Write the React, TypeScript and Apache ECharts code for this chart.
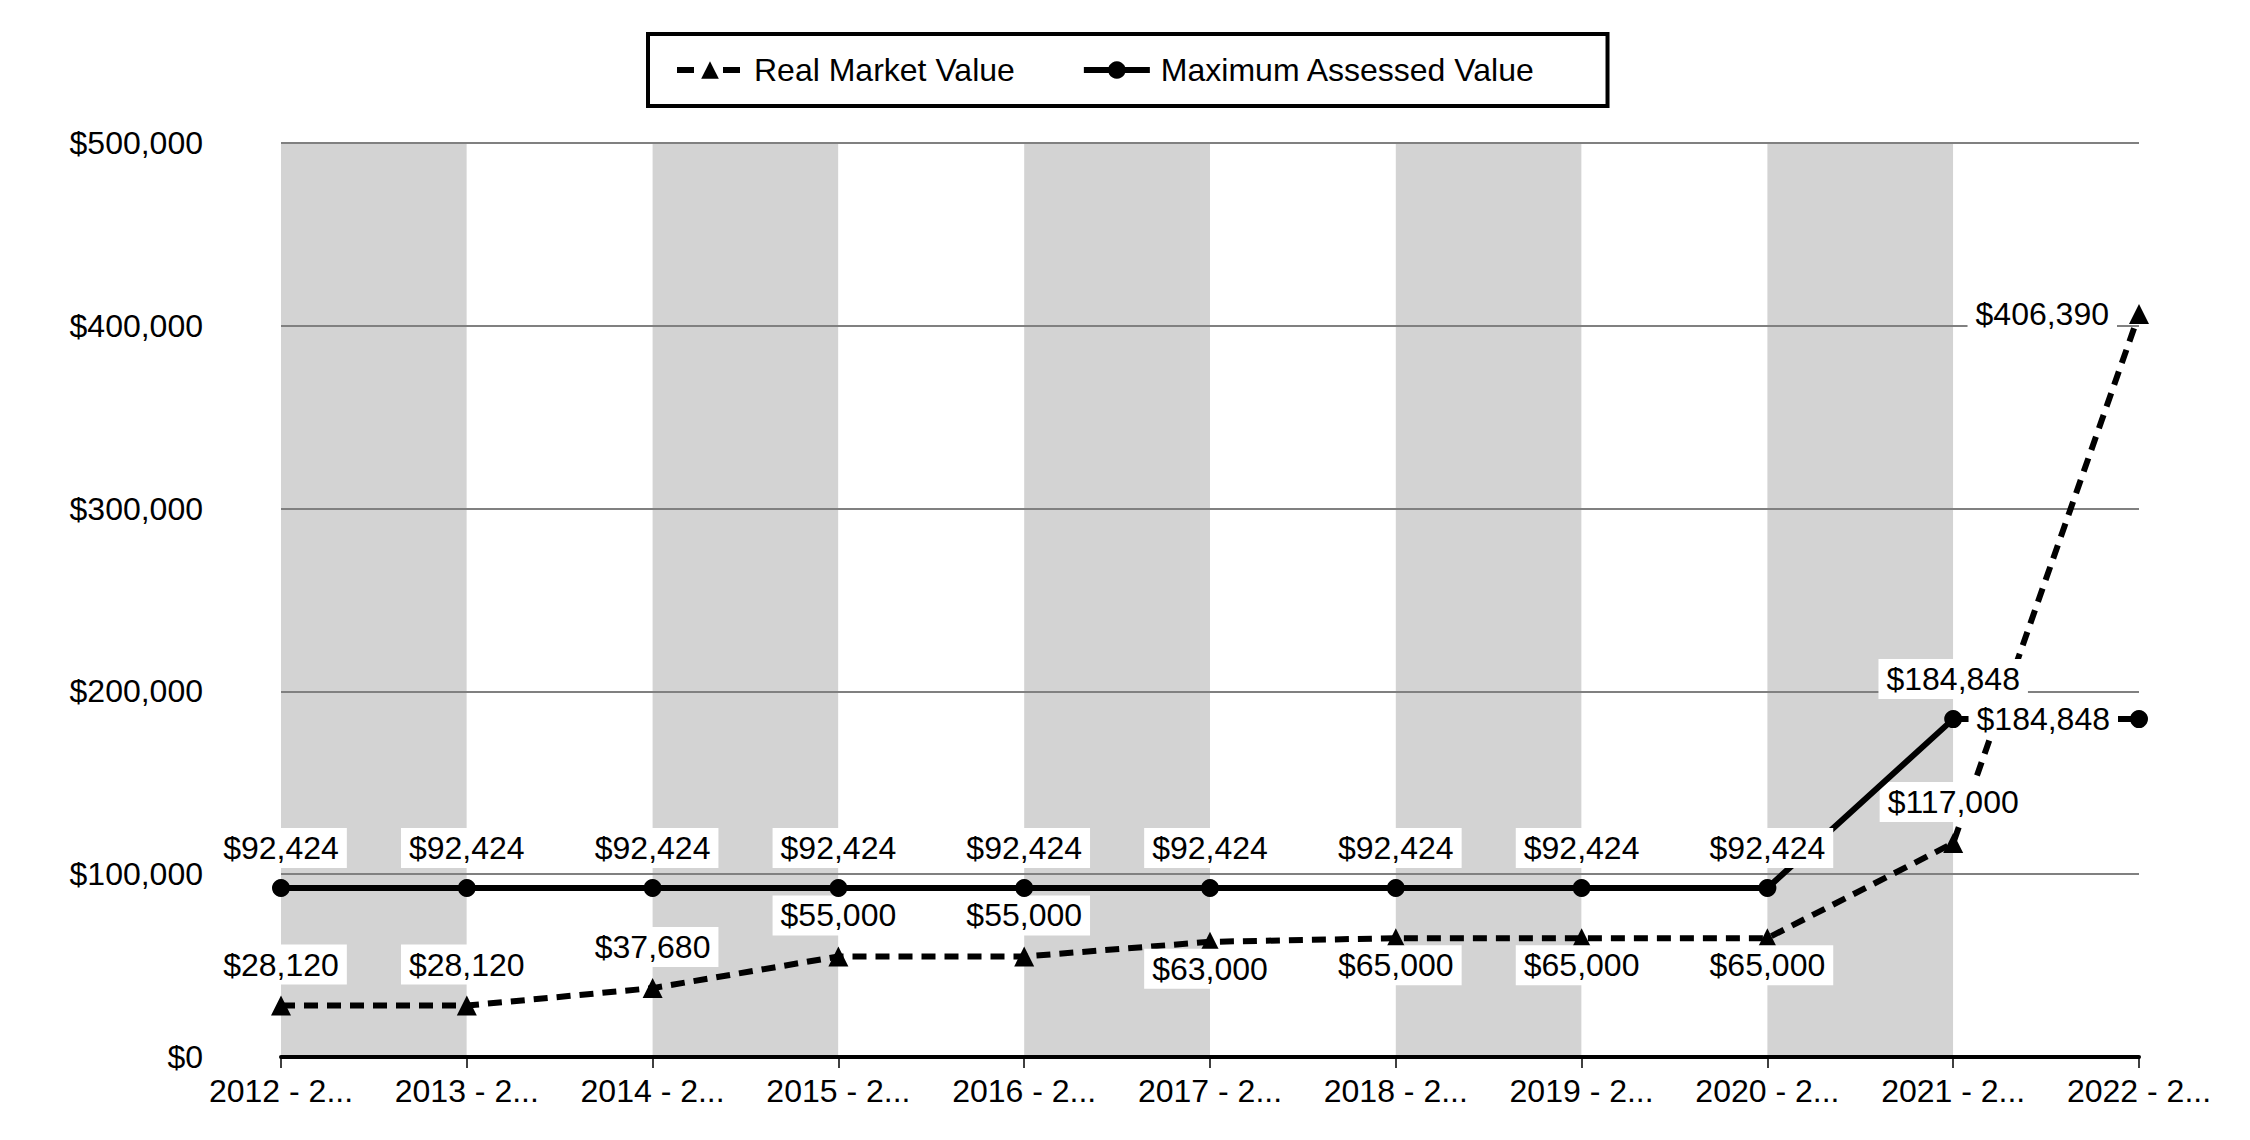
import React, { useEffect, useRef } from "react";
import * as echarts from "echarts";

const categories = [
  "2012 - 2013", "2013 - 2014", "2014 - 2015", "2015 - 2016", "2016 - 2017", "2017 - 2018",
  "2018 - 2019", "2019 - 2020", "2020 - 2021", "2021 - 2022", "2022 - 2023",
];
const realMarketValue = [28120, 28120, 37680, 55000, 55000, 63000, 65000, 65000, 65000, 117000, 406390];
const maxAssessedValue = [92424, 92424, 92424, 92424, 92424, 92424, 92424, 92424, 92424, 184848, 184848];
const yMin = 0;
const yMax = 500000;
const yInterval = 100000;

const rmvLabelPlacement = ["top", "top", "top", "top", "top", "bottom", "bottom", "bottom", "bottom", "top", "left"];
const mavLabelPlacement = ["top", "top", "top", "top", "top", "top", "top", "top", "top", "top", "left"];

const FONT = "'Liberation Sans', Arial, sans-serif";
const money = (v: number) => "$" + Math.round(v).toLocaleString("en-US");

const distFor = (p: string) => (p === "top" ? 11 : p === "bottom" ? -3 : 12);

const buildData = (vals: number[], places: string[]) =>
  vals.map((v, i) => ({
    value: v,
    label: { position: places[i], distance: distFor(places[i]) },
  }));

const labelStyle = {
  show: true,
  formatter: (p: any) => money(p.value),
  color: "#000",
  fontSize: 32,
  fontFamily: FONT,
  backgroundColor: "#ffffff",
  padding: [4, 8],
};

export default function App() {
  const ref = useRef<HTMLDivElement>(null);
  useEffect(() => {
    if (!ref.current) return;
    const chart = echarts.init(ref.current, undefined, { renderer: "svg" });
    chart.setOption({
      animation: false,
      backgroundColor: "#ffffff",
      textStyle: { fontFamily: FONT, color: "#000" },
      legend: {
        left: 648,
        top: 34,
        padding: [20, 72, 20, 26],
        borderColor: "#000",
        borderWidth: 4,
        itemWidth: 66,
        itemHeight: 22,
        itemGap: 66,
        textStyle: { fontSize: 32, color: "#000", fontFamily: FONT, padding: [0, 0, 0, 6] },
        data: [
          { name: "Real Market Value", lineStyle: { width: 6, type: [17, 29], color: "#000" } },
          { name: "Maximum Assessed Value", lineStyle: { width: 6, type: "solid", color: "#000" } },
        ],
      },
      grid: { left: 281, right: 111, top: 143, bottom: 83, containLabel: false },
      xAxis: [
        {
          type: "category",
          data: categories,
          boundaryGap: false,
          z: 3,
          axisLine: { show: true, lineStyle: { color: "#000", width: 4 } },
          axisTick: { show: true, length: 11, lineStyle: { color: "#000", width: 1.5 } },
          axisLabel: {
            color: "#000",
            fontSize: 32,
            fontFamily: FONT,
            margin: 18,
            interval: 0,
            formatter: (v: string) => v.slice(0, 8) + "...",
          },
          splitLine: { show: false },
          splitArea: { show: false },
        },
        {
          type: "category",
          data: categories,
          boundaryGap: false,
          position: "bottom",
          z: 0,
          axisLine: { show: false },
          axisTick: { show: false },
          axisLabel: { show: false },
          splitLine: { show: false },
          splitArea: { show: true, areaStyle: { color: ["#d3d3d3", "#ffffff"] } },
        },
      ],
      yAxis: {
        type: "value",
        min: yMin,
        max: yMax,
        interval: yInterval,
        z: 1,
        axisLine: { show: false },
        axisTick: { show: false },
        axisLabel: {
          color: "#000",
          fontSize: 32,
          fontFamily: FONT,
          margin: 78,
          formatter: (v: number) => money(v),
        },
        splitLine: { show: true, lineStyle: { color: "#808080", width: 2 } },
      },
      series: [
        {
          name: "Real Market Value",
          type: "line",
          z: 4,
          data: buildData(realMarketValue, rmvLabelPlacement),
          symbol: "triangle",
          symbolSize: 20,
          itemStyle: { color: "#000" },
          lineStyle: { color: "#000", width: 6, type: [14, 9] },
          label: labelStyle,
        },
        {
          name: "Maximum Assessed Value",
          type: "line",
          z: 5,
          data: buildData(maxAssessedValue, mavLabelPlacement),
          symbol: "circle",
          symbolSize: 18,
          itemStyle: { color: "#000" },
          lineStyle: { color: "#000", width: 6, type: "solid" },
          label: labelStyle,
        },
      ],
    });
    return () => chart.dispose();
  }, []);
  return (
    <div
      ref={ref}
      style={{ position: "fixed", left: 0, top: 0, width: 2250, height: 1140, background: "#fff" }}
    />
  );
}
